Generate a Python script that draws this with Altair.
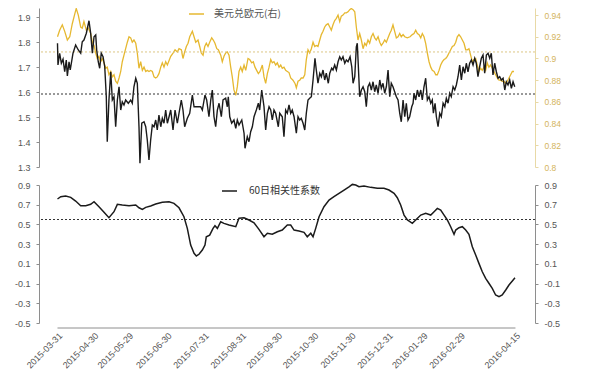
import altair as alt
import pandas as pd

BASE = pd.Timestamp("2015-03-31")

# (days since 2015-03-31, value)
treasury_10y = [
    (0, 1.795), (0.4, 1.708), (1.8, 1.755), (3.2, 1.715), (4.6, 1.731), (6.0, 1.681), (7.3, 1.728), (8.2, 1.664),
    (9.6, 1.721), (10.6, 1.688), (12.9, 1.755), (15.1, 1.788), (17.3, 1.768), (19.3, 1.755), (20.6, 1.801),
    (22.0, 1.808), (24.0, 1.835), (26.2, 1.885), (27.6, 1.835), (29.0, 1.755), (30.4, 1.821), (31.8, 1.828),
    (32.6, 1.768), (33.9, 1.721), (35.1, 1.695), (36.4, 1.755), (37.9, 1.741), (39.3, 1.701), (40.6, 1.581),
    (41.4, 1.401), (42.8, 1.568), (44.3, 1.681), (45.6, 1.568), (47.0, 1.581), (48.4, 1.461), (49.8, 1.568),
    (51.2, 1.621), (52.6, 1.528), (53.9, 1.561), (55.3, 1.548), (56.7, 1.568), (58.9, 1.555), (60.9, 1.568),
    (62.2, 1.555), (63.6, 1.621), (65.1, 1.655), (66.4, 1.635), (67.8, 1.461), (68.6, 1.315), (70.1, 1.475),
    (72.0, 1.481), (73.4, 1.461), (74.7, 1.408), (76.1, 1.328), (77.5, 1.408), (78.9, 1.468), (80.3, 1.461),
    (81.7, 1.488), (83.0, 1.448), (84.4, 1.508), (85.9, 1.461), (87.2, 1.495), (88.6, 1.475), (90.0, 1.528),
    (91.4, 1.475),
    (92.8, 1.501), (94.2, 1.528), (96.1, 1.448), (97.8, 1.528), (99.7, 1.475), (101.1, 1.515), (103.0, 1.568),
    (104.4, 1.528), (105.8, 1.461), (108.0, 1.495), (110.0, 1.515), (112.2, 1.588), (113.6, 1.541),
    (116.3, 1.541), (119.1, 1.541), (120.5, 1.528), (122.7, 1.588), (124.1, 1.568), (126.0, 1.501),
    (127.5, 1.568), (128.8, 1.608), (130.2, 1.501), (131.6, 1.461), (133.0, 1.528), (134.4, 1.555),
    (136.3, 1.501), (137.7, 1.568), (139.9, 1.575), (141.3, 1.541), (142.1, 1.581), (143.3, 1.501),
    (144.9, 1.475), (146.8, 1.488), (148.3, 1.455), (149.6, 1.488), (151.0, 1.468), (153.3, 1.488),
    (155.2, 1.435), (156.0, 1.375), (157.9, 1.421), (159.3, 1.401), (160.7, 1.441), (162.1, 1.461),
    (163.5, 1.501), (165.4, 1.528), (167.1, 1.555), (168.2, 1.528), (169.9, 1.608), (171.8, 1.541),
    (173.2, 1.448), (174.6, 1.515), (176.0, 1.541), (177.4, 1.528), (178.7, 1.488), (180.1, 1.528),
    (181.5, 1.515), (183.7, 1.461), (184.9, 1.515), (187.0, 1.501), (188.4, 1.421), (189.8, 1.528),
    (191.2, 1.515),
    (192.6, 1.548), (194.0, 1.515), (195.3, 1.528), (196.8, 1.501), (198.7, 1.435), (200.1, 1.501),
    (201.5, 1.488), (202.8, 1.495), (204.3, 1.475), (205.7, 1.448), (207.0, 1.515), (208.4, 1.568),
    (209.8, 1.575), (211.2, 1.581), (212.6, 1.648), (214.2, 1.735), (215.3, 1.688), (216.7, 1.635),
    (218.2, 1.675), (219.5, 1.661), (220.9, 1.688), (222.3, 1.648), (223.6, 1.675), (225.3, 1.635),
    (226.5, 1.675), (228.1, 1.695), (229.2, 1.688), (230.6, 1.708), (232.0, 1.688), (233.4, 1.721),
    (234.8, 1.741), (236.1, 1.728), (237.5, 1.741), (239.0, 1.715), (240.3, 1.728), (241.7, 1.721),
    (243.4, 1.741), (244.8, 1.701), (245.9, 1.635), (247.3, 1.661), (248.6, 1.781), (249.4, 1.795),
    (250.3, 1.701), (251.4, 1.581), (252.8, 1.608), (254.2, 1.621), (255.6, 1.601), (256.9, 1.541),
    (258.3, 1.621), (259.7, 1.635), (261.1, 1.608), (262.5, 1.641), (263.9, 1.601), (265.2, 1.628),
    (266.7, 1.595), (268.1, 1.648), (269.4, 1.615), (270.8, 1.635), (272.2, 1.595), (273.6, 1.621),
    (275.0, 1.688), (276.4, 1.581), (277.7, 1.635), (279.1, 1.621), (280.5, 1.601), (281.9, 1.581),
    (283.3, 1.568), (284.7, 1.515), (286.0, 1.481), (287.5, 1.568), (288.9, 1.501), (290.2, 1.555),
    (291.6, 1.488), (293.0, 1.501), (294.7, 1.541), (295.8, 1.555),
    (296.6, 1.595), (298.0, 1.568), (299.4, 1.608), (300.8, 1.581), (302.2, 1.608), (303.5, 1.568),
    (304.9, 1.621), (306.3, 1.655), (307.7, 1.568), (309.1, 1.581), (310.5, 1.555), (311.8, 1.568),
    (312.7, 1.515), (314.1, 1.555), (315.2, 1.501), (316.6, 1.461), (318.0, 1.515), (319.3, 1.501),
    (320.8, 1.555), (322.2, 1.541), (323.5, 1.575), (324.9, 1.555), (326.3, 1.595), (327.6, 1.581),
    (329.1, 1.621), (330.5, 1.608), (331.8, 1.628), (333.2, 1.661), (334.6, 1.708), (336.0, 1.648),
    (337.4, 1.701), (338.8, 1.675), (340.1, 1.715), (341.5, 1.681), (342.9, 1.715), (344.3, 1.728),
    (345.7, 1.708), (347.1, 1.735), (348.4, 1.715), (349.8, 1.661), (351.2, 1.701), (352.6, 1.735),
    (354.0, 1.748), (355.4, 1.675), (356.8, 1.748), (358.2, 1.755), (359.6, 1.735), (360.9, 1.755),
    (362.3, 1.668), (363.7, 1.715), (365.1, 1.681), (366.5, 1.655), (367.9, 1.661), (369.2, 1.648),
    (370.7, 1.655), (372.1, 1.608), (373.4, 1.641), (374.8, 1.628), (376.2, 1.648), (377.6, 1.615),
    (379.0, 1.641), (380.4, 1.621),
]

eurusd = [
    (0, 0.920), (1.8, 0.926), (4.0, 0.931), (6.0, 0.925), (8.2, 0.917), (10.2, 0.920), (12.3, 0.932),
    (14.6, 0.942), (15.6, 0.946), (17.3, 0.940), (19.3, 0.929), (20.6, 0.928), (22.0, 0.934), (24.0, 0.926),
    (25.6, 0.928), (27.6, 0.923), (29.0, 0.915), (30.4, 0.912), (31.8, 0.905), (33.1, 0.900), (34.5, 0.902),
    (35.9, 0.897), (37.3, 0.900), (38.7, 0.896), (40.1, 0.891), (41.4, 0.892), (42.8, 0.885), (44.3, 0.888),
    (45.6, 0.883), (47.0, 0.885), (48.4, 0.879), (49.8, 0.877), (51.2, 0.882), (52.6, 0.888), (53.9, 0.897),
    (55.3, 0.903), (56.7, 0.909), (58.1, 0.915), (59.5, 0.920), (60.9, 0.919), (62.2, 0.915), (63.6, 0.917),
    (65.1, 0.914), (66.4, 0.905), (67.8, 0.891), (69.2, 0.897), (70.6, 0.889), (72.0, 0.892), (73.4, 0.888),
    (74.7, 0.889), (76.1, 0.888), (77.5, 0.889), (78.9, 0.888), (80.3, 0.883), (81.7, 0.882), (83.0, 0.883),
    (84.4, 0.886), (85.9, 0.892), (87.2, 0.896), (88.6, 0.892), (90.0, 0.897), (91.4, 0.894),
    (94.2, 0.902), (96.1, 0.905), (97.8, 0.908), (99.7, 0.906), (101.1, 0.909), (103.0, 0.908), (104.4, 0.900),
    (105.8, 0.906), (107.2, 0.911), (108.6, 0.914), (110.0, 0.920), (112.2, 0.925), (113.6, 0.920),
    (115.0, 0.915), (116.9, 0.917), (118.3, 0.911), (119.6, 0.905), (121.1, 0.903), (122.5, 0.911),
    (123.8, 0.914), (125.2, 0.911), (126.6, 0.915), (128.3, 0.919), (129.6, 0.917), (131.0, 0.914),
    (132.5, 0.909), (133.8, 0.908), (135.8, 0.903), (137.1, 0.897), (138.5, 0.902), (139.9, 0.905),
    (141.3, 0.906), (142.7, 0.903), (144.1, 0.892), (145.4, 0.883), (146.8, 0.871), (148.3, 0.866),
    (149.6, 0.874), (151.0, 0.888), (152.4, 0.892), (153.7, 0.888), (155.2, 0.894), (156.6, 0.889),
    (158.5, 0.900), (159.9, 0.899), (161.6, 0.896), (162.9, 0.897), (164.3, 0.892), (165.7, 0.889),
    (167.1, 0.886), (168.5, 0.888), (170.4, 0.894), (171.8, 0.883), (173.2, 0.877), (174.6, 0.886),
    (176.0, 0.892), (177.4, 0.899), (178.7, 0.896), (180.1, 0.897), (181.5, 0.894), (182.9, 0.896),
    (184.3, 0.892), (185.7, 0.894), (187.0, 0.891), (188.4, 0.892), (189.8, 0.889), (191.2, 0.888),
    (192.6, 0.887), (194.0, 0.882), (195.9, 0.880), (197.6, 0.877), (198.7, 0.873), (200.1, 0.879),
    (201.5, 0.880), (202.8, 0.882), (204.3, 0.882), (205.7, 0.885), (207.0, 0.899), (208.4, 0.908),
    (209.8, 0.905), (211.2, 0.909), (212.6, 0.915), (214.0, 0.911), (215.3, 0.912), (216.7, 0.911),
    (218.2, 0.917), (219.5, 0.922), (220.9, 0.925), (222.3, 0.929), (223.6, 0.931), (225.1, 0.932),
    (226.5, 0.929), (227.8, 0.926), (229.2, 0.931), (230.6, 0.935), (232.0, 0.937), (233.4, 0.940),
    (234.8, 0.934), (236.1, 0.939), (237.5, 0.940), (239.0, 0.942), (240.3, 0.942), (241.7, 0.943),
    (243.1, 0.945), (244.4, 0.946), (245.9, 0.945), (247.3, 0.943), (248.6, 0.929), (250.0, 0.917),
    (251.4, 0.923), (252.8, 0.917), (254.2, 0.909), (255.6, 0.914), (256.9, 0.912), (258.3, 0.917),
    (259.7, 0.914), (261.1, 0.920), (262.5, 0.923), (263.9, 0.919), (265.2, 0.917), (266.7, 0.920),
    (268.1, 0.915), (269.4, 0.912), (270.8, 0.914), (272.2, 0.917), (273.6, 0.915), (275.0, 0.919),
    (276.4, 0.923), (277.7, 0.926), (279.1, 0.931), (280.5, 0.925), (281.9, 0.919), (283.3, 0.920),
    (284.7, 0.923), (286.0, 0.920), (287.5, 0.922), (288.9, 0.920),
    (291.0, 0.919), (293.3, 0.920), (295.2, 0.922), (296.6, 0.923), (298.0, 0.926), (299.4, 0.923),
    (300.8, 0.922), (302.2, 0.919), (303.5, 0.923), (304.9, 0.920), (306.3, 0.914), (307.7, 0.905),
    (309.1, 0.897), (310.5, 0.892), (311.8, 0.889), (313.3, 0.888), (314.7, 0.885), (316.0, 0.885),
    (317.4, 0.889), (318.8, 0.894), (320.2, 0.897), (321.6, 0.899), (323.0, 0.900), (324.3, 0.902),
    (325.7, 0.905), (327.1, 0.908), (328.5, 0.911), (329.9, 0.912), (331.3, 0.915), (332.6, 0.920),
    (334.0, 0.922), (335.4, 0.920), (336.8, 0.917), (338.2, 0.914), (339.6, 0.908), (340.9, 0.908),
    (342.3, 0.909), (343.7, 0.903), (345.1, 0.897), (346.5, 0.899), (347.9, 0.900), (349.2, 0.894),
    (350.6, 0.888), (352.0, 0.891), (353.4, 0.889), (354.8, 0.892), (356.2, 0.889), (357.5, 0.896),
    (358.9, 0.892), (360.3, 0.894), (361.7, 0.891), (363.1, 0.888), (364.5, 0.885), (365.9, 0.882),
    (367.3, 0.880), (368.7, 0.880), (370.0, 0.879), (371.4, 0.879), (372.9, 0.877), (374.2, 0.879),
    (375.6, 0.882), (377.0, 0.885), (378.4, 0.888), (379.8, 0.888),
]

corr_60d = [
    (0, 0.758), (2.7, 0.781), (6.8, 0.788), (11.0, 0.775), (15.1, 0.737), (19.3, 0.690), (23.5, 0.690),
    (27.6, 0.704), (30.4, 0.730), (34.5, 0.680), (38.7, 0.623), (42.8, 0.568), (47.0, 0.629), (49.8, 0.704),
    (53.9, 0.697), (59.5, 0.690), (65.1, 0.697), (67.8, 0.669), (70.6, 0.653), (73.4, 0.673), (77.5, 0.687),
    (81.7, 0.707), (87.2, 0.724), (92.8, 0.730), (96.9, 0.714), (101.1, 0.669), (105.2, 0.578), (108.0, 0.460),
    (110.8, 0.291), (113.6, 0.207), (115.5, 0.180), (117.7, 0.197), (120.5, 0.240), (122.7, 0.291),
    (123.8, 0.375), (126.6, 0.392), (129.4, 0.460), (131.0, 0.487), (133.0, 0.460), (135.8, 0.527),
    (138.5, 0.511), (142.7, 0.494), (148.3, 0.477), (151.0, 0.562), (155.2, 0.568), (159.3, 0.545),
    (163.5, 0.517), (167.6, 0.450), (171.8, 0.375), (174.6, 0.410), (178.7, 0.400), (182.9, 0.426),
    (187.0, 0.443), (191.2, 0.494), (194.0, 0.494), (196.8, 0.443), (200.9, 0.433), (205.1, 0.420),
    (207.8, 0.375), (210.7, 0.410), (212.6, 0.375), (214.8, 0.460), (217.6, 0.578), (221.7, 0.680),
    (225.9, 0.747), (230.0, 0.781), (234.2, 0.815), (238.4, 0.849), (242.5, 0.882), (245.3, 0.906),
    (248.1, 0.900), (250.8, 0.882), (255.0, 0.889), (260.6, 0.876), (266.1, 0.866), (271.6, 0.866),
    (275.8, 0.849), (280.0, 0.815), (282.7, 0.771), (285.5, 0.697), (288.3, 0.595), (291.1, 0.545),
    (295.2, 0.511), (298.0, 0.545), (302.2, 0.595), (306.3, 0.612), (310.5, 0.595), (313.3, 0.629),
    (316.0, 0.663), (318.8, 0.646), (321.6, 0.595), (324.3, 0.545), (327.1, 0.477), (329.9, 0.400),
    (331.3, 0.443), (334.0, 0.467), (336.8, 0.477), (339.6, 0.443), (342.3, 0.400), (345.1, 0.274),
    (347.9, 0.190), (350.6, 0.105), (353.4, 0.020), (356.2, -0.047), (358.9, -0.097), (361.7, -0.148),
    (364.5, -0.216), (367.3, -0.233), (370.0, -0.216), (372.9, -0.165), (375.6, -0.115), (378.4, -0.074),
    (380.6, -0.041),
]

treasury_mean = [1.592]
eurusd_mean = [0.906]
corr_mean = [0.55]

treasury_ticks = [1.3, 1.4, 1.5, 1.6, 1.7, 1.8, 1.9]
eurusd_ticks = [0.80, 0.82, 0.84, 0.86, 0.88, 0.90, 0.92, 0.94]
corr_ticks = [-0.5, -0.3, -0.1, 0.1, 0.3, 0.5, 0.7, 0.9]
date_ticks = ["2015-03-31", "2015-04-30", "2015-05-29", "2015-06-30", "2015-07-31", "2015-08-31",
              "2015-09-30", "2015-10-30", "2015-11-30", "2015-12-31", "2016-01-29", "2016-02-29",
              "2016-04-15"]
axis_span = ["2015-03-31", "2016-04-15"]
legend_labels = ["美国10年国债收益率(左)", "美元兑欧元(右)", "60日相关性系数"]

FONT = "Liberation Sans"
CJK = "Noto Sans CJK SC"
BLACK = "#1b1b1b"
YELLOW = "#e6b830"
GOLD_AXIS = "#e8d9a6"
GOLD_LABEL = "#d4b45c"
GRAY = "#8e8e8e"
LABEL = "#555555"

W = 496
H_TOP = 159
H_BOT = 138


def frame(pairs):
    return pd.DataFrame({
        "date": [(BASE + pd.Timedelta(days=d)).strftime("%Y-%m-%dT%H:%M:%S") for d, _ in pairs],
        "v": [v for _, v in pairs],
    })


def dt(s, hours=0, minutes=0):
    y, m, d = (int(p) for p in s.split("-"))
    return alt.DateTime(year=y, month=m, date=d, hours=hours, minutes=minutes)


def xscale():
    return alt.Scale(domain=[dt("2015-03-15", 14, 40), dt("2016-05-01", 6, 0)], nice=False)


minus_fix = "replace(format(datum.value, '{f}'), '\u2212', '-')"

df_t = frame(treasury_10y)
df_e = frame(eurusd)
df_c = frame(corr_60d)

top_left_scale = dict(domain=[1.3, 1.936], nice=False, zero=False)
top_right_scale = dict(domain=[0.8, 0.9465], nice=False, zero=False)
bot_scale = dict(domain=[-0.5, 0.9], nice=False, zero=False)

yellow_line = alt.Chart(df_e).mark_line(color=YELLOW, strokeWidth=1.3).encode(
    x=alt.X("date:T", scale=xscale(), axis=None),
    y=alt.Y("v:Q", scale=alt.Scale(**top_right_scale), axis=alt.Axis(
        orient="right", values=eurusd_ticks, labelExpr=minus_fix.format(f=".2~f"), title=None,
        grid=False, domainColor=GOLD_AXIS, tickColor=GOLD_AXIS, labelColor=GOLD_LABEL,
        tickSize=3, labelPadding=6, labelFontSize=8.5)),
)
yellow_rule = alt.Chart(pd.DataFrame({"v": eurusd_mean})).mark_rule(
    color="#dcc785", strokeDash=[2, 2], strokeWidth=1).encode(
    y=alt.Y("v:Q", scale=alt.Scale(**top_right_scale), axis=None))

black_line = alt.Chart(df_t).mark_line(color=BLACK, strokeWidth=1.4).encode(
    x=alt.X("date:T", scale=xscale(), axis=None),
    y=alt.Y("v:Q", scale=alt.Scale(**top_left_scale), axis=alt.Axis(
        orient="left", values=treasury_ticks, labelExpr=minus_fix.format(f=".1f"), title=None,
        grid=False, domainColor=GRAY, tickColor=GRAY, labelColor=LABEL,
        tickSize=3, labelPadding=6, labelFontSize=9)),
)
black_rule = alt.Chart(pd.DataFrame({"v": treasury_mean})).mark_rule(
    color="#333333", strokeDash=[2, 2], strokeWidth=1).encode(
    y=alt.Y("v:Q", scale=alt.Scale(**top_left_scale), axis=None))

leg_top = pd.DataFrame({"t": legend_labels[:2], "ly": [-6, 6], "c": ["#1b1b1b", YELLOW]})
leg_top_lines = alt.Chart(leg_top).mark_rule(strokeWidth=1.5, clip=True).encode(
    x=alt.value(150), x2=alt.value(165), y=alt.Y("ly:Q", scale=None),
    color=alt.Color("c:N", scale=None))
leg_top_text = alt.Chart(leg_top).mark_text(
    align="left", baseline="middle", fontSize=10, font=CJK, color=LABEL, clip=True).encode(
    x=alt.value(175), y=alt.Y("ly:Q", scale=None), text="t:N")

top = alt.layer(yellow_line, yellow_rule, black_line, black_rule, leg_top_lines, leg_top_text).resolve_scale(
    y="independent").properties(width=W, height=H_TOP)

x_axis = alt.Axis(
    values=[dt(s) for s in date_ticks], format="%Y-%m-%d", labelAngle=-45, title=None,
    domain=False, ticks=False, grid=False, labelColor=LABEL, labelFontSize=9,
    labelPadding=3, offset=5, labelOverlap=False, labelFlush=False)

corr_rule = alt.Chart(pd.DataFrame({"v": corr_mean})).mark_rule(
    color="#333333", strokeDash=[2, 2], strokeWidth=1).encode(
    y=alt.Y("v:Q", scale=alt.Scale(**bot_scale), axis=alt.Axis(
        orient="right", values=corr_ticks, labelExpr=minus_fix.format(f=".1f"), title=None,
        grid=False, domainColor=GRAY, tickColor=GRAY, labelColor=LABEL,
        tickSize=3, labelPadding=6, labelFontSize=9)))

corr_line = alt.Chart(df_c).mark_line(color=BLACK, strokeWidth=1.5).encode(
    x=alt.X("date:T", scale=xscale(), axis=x_axis),
    y=alt.Y("v:Q", scale=alt.Scale(**bot_scale), axis=alt.Axis(
        orient="left", values=corr_ticks, labelExpr=minus_fix.format(f=".1f"), title=None,
        grid=False, domainColor=GRAY, tickColor=GRAY, labelColor=LABEL,
        tickSize=3, labelPadding=6, labelFontSize=9)),
)

span_df = pd.DataFrame({"date": [axis_span[0] + "T00:00:00"], "end": [axis_span[1] + "T00:00:00"]})
x_axis_line = alt.Chart(span_df).mark_rule(color=GRAY, strokeWidth=1).encode(
    x=alt.X("date:T", scale=xscale(), axis=x_axis), x2="end:T", y=alt.value(H_BOT + 5))

leg_bot = pd.DataFrame({"t": [legend_labels[2]]})
leg_bot_line = alt.Chart(leg_bot).mark_rule(color=BLACK, strokeWidth=1.5).encode(
    x=alt.value(183), x2=alt.value(198), y=alt.value(6))
leg_bot_text = alt.Chart(leg_bot).mark_text(
    align="left", baseline="middle", fontSize=10, font=CJK, color="#333333").encode(
    x=alt.value(210), y=alt.value(6), text="t:N")

bottom = alt.layer(corr_rule, corr_line, x_axis_line, leg_bot_line, leg_bot_text).resolve_scale(
    y="independent").properties(width=W, height=H_BOT)

chart = alt.vconcat(top, bottom, spacing=18, bounds="flush").properties(
    padding={"left": 6, "top": -3, "right": 5, "bottom": 0}, background="white"
).configure_view(stroke=None).configure_axis(labelFont=FONT)

chart.save("out.html", embed_options={"renderer": "svg", "actions": False})
